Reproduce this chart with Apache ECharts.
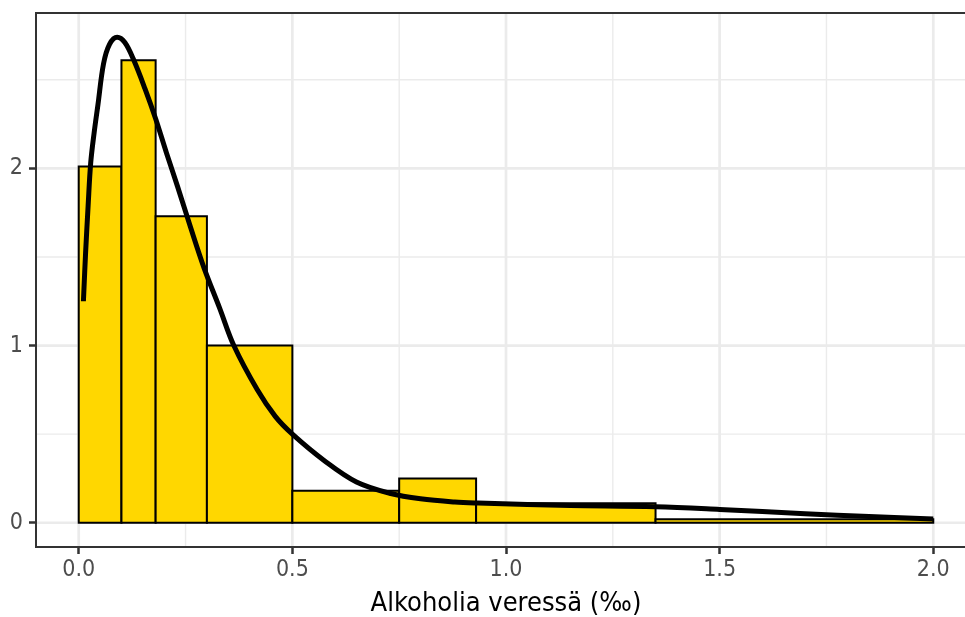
<!DOCTYPE html>
<html>
<head>
<meta charset="utf-8">
<script src="https://cdn.jsdelivr.net/npm/echarts@6/dist/echarts.min.js"></script>
<style>
  html, body { margin: 0; padding: 0; background: #ffffff; }
  #chart { width: 965px; height: 617px; }
</style>
</head>
<body>
<div id="chart"></div>
<script>
// Histogram bins (variable widths) and their densities
const binEdges = [0, 0.1, 0.18, 0.3, 0.5, 0.75, 0.93, 1.35, 2.0];
const densities = [2.01, 2.61, 1.73, 1.0, 0.18, 0.25, 0.11, 0.02];

// Kernel density estimate drawn over the histogram
const curveX = [0.011, 0.016, 0.022, 0.028, 0.036, 0.045, 0.058, 0.072, 0.090, 0.108,
                0.129, 0.155, 0.180, 0.205, 0.231, 0.260, 0.293, 0.330, 0.363, 0.418,
                0.460, 0.500, 0.575, 0.650, 0.730, 0.800, 0.880, 0.935, 1.050, 1.150,
                1.350, 1.500, 1.700, 1.850, 2.000];
const curveY = [1.25, 1.52, 1.79, 2.03, 2.20, 2.36, 2.59, 2.70, 2.74, 2.71,
                2.61, 2.45, 2.28, 2.09, 1.90, 1.68, 1.44, 1.21, 1.00, 0.75,
                0.60, 0.50, 0.35, 0.23, 0.165, 0.135, 0.117, 0.111, 0.103, 0.097,
                0.090, 0.075, 0.051, 0.035, 0.021];

// Axis ticks and labels
const xTicks = [0, 0.5, 1.0, 1.5, 2.0];
const xMinorTicks = [0.25, 0.75, 1.25, 1.75];
const yTicks = [0, 1, 2];
const yMinorTicks = [0.5, 1.5, 2.5];
const xTitle = 'Alkoholia veressä (‰)';

const X_MIN = -0.1, X_MAX = 2.1;
const Y_MIN = -0.137, Y_MAX = 2.877;

const FONT = "'DejaVu Sans Condensed', 'DejaVu Sans', sans-serif";

const chart = echarts.init(document.getElementById('chart'), null, { renderer: 'canvas' });

const barData = densities.map((d, i) => [binEdges[i], binEdges[i + 1], d]);
const curveData = curveX.map((x, i) => [x, curveY[i]]);

// Grid lines: [value, orientation, major?]
const gridData = []
  .concat(xMinorTicks.map(v => [v, 0, 0]))
  .concat(yMinorTicks.map(v => [v, 1, 0]))
  .concat(xTicks.map(v => [v, 0, 1]))
  .concat(yTicks.map(v => [v, 1, 1]));

const option = {
  backgroundColor: '#ffffff',
  animation: false,
  grid: {
    left: 36, top: 13, right: -11, bottom: 70,
    outerBoundsMode: 'none',
    containLabel: false,
    show: true, borderColor: '#333333', borderWidth: 2, backgroundColor: 'transparent',
    z: 10
  },
  xAxis: {
    type: 'value',
    min: X_MIN, max: X_MAX,
    axisLine: { show: false, onZero: false },
    splitLine: { show: false },
    axisTick: {
      show: true, customValues: xTicks, length: 7,
      lineStyle: { color: '#333333', width: 2.5 }
    },
    axisLabel: {
      customValues: xTicks, margin: 12,
      formatter: v => v.toFixed(1),
      fontFamily: FONT, fontSize: 23, color: '#4d4d4d'
    },
    name: xTitle,
    nameLocation: 'middle',
    nameGap: 43,
    nameTextStyle: { fontFamily: FONT, fontSize: 27, color: '#000000' }
  },
  yAxis: {
    type: 'value',
    min: Y_MIN, max: Y_MAX,
    axisLine: { show: false, onZero: false },
    splitLine: { show: false },
    axisTick: {
      show: true, customValues: yTicks, length: 7,
      lineStyle: { color: '#333333', width: 2.5 }
    },
    axisLabel: {
      customValues: yTicks, margin: 13,
      formatter: v => String(v),
      fontFamily: FONT, fontSize: 23, color: '#4d4d4d'
    }
  },
  series: [
    {
      type: 'custom',
      name: 'grid',
      silent: true,
      z: 0,
      data: gridData,
      encode: { x: -1, y: -1 },
      renderItem: function (params, api) {
        const v = api.value(0);
        const vertical = api.value(1) === 0;
        const major = api.value(2) === 1;
        const p0 = vertical ? api.coord([v, Y_MIN]) : api.coord([X_MIN, v]);
        const p1 = vertical ? api.coord([v, Y_MAX]) : api.coord([X_MAX, v]);
        return {
          type: 'line',
          shape: { x1: p0[0], y1: p0[1], x2: p1[0], y2: p1[1] },
          style: { stroke: '#ebebeb', lineWidth: major ? 2.7 : 1.4 }
        };
      }
    },
    {
      type: 'custom',
      name: 'histogram',
      silent: true,
      z: 2,
      data: barData,
      encode: { x: [0, 1], y: 2 },
      renderItem: function (params, api) {
        const pTop = api.coord([api.value(0), api.value(2)]);
        const pBot = api.coord([api.value(1), 0]);
        return {
          type: 'rect',
          shape: {
            x: pTop[0], y: pTop[1],
            width: pBot[0] - pTop[0], height: pBot[1] - pTop[1]
          },
          style: { fill: '#FFD700', stroke: '#000000', lineWidth: 2 }
        };
      }
    },
    {
      type: 'line',
      name: 'density',
      silent: true,
      z: 3,
      data: curveData,
      smooth: 0.35,
      showSymbol: false,
      symbol: 'none',
      lineStyle: { color: '#000000', width: 5, cap: 'butt', join: 'round' }
    }
  ]
};

chart.setOption(option);
</script>
</body>
</html>
